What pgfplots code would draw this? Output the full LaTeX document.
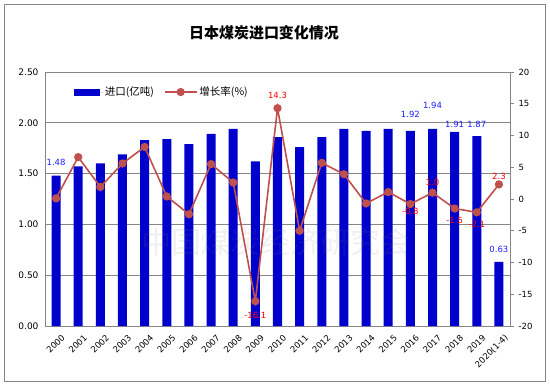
\documentclass[border=0pt]{standalone}
\usepackage{pgfplots}
\usepackage{pgfplotstable}
\pgfplotsset{compat=1.18}
\usepackage{fontspec}
\setmainfont{DejaVu Sans}
\newfontfamily\cjk{Noto Sans CJK SC}
\definecolor{barblue}{RGB}{0,0,204}
\definecolor{linered}{RGB}{192,80,77}
\definecolor{gridgray}{RGB}{134,134,134}
\definecolor{lblblue}{RGB}{30,30,255}

\pgfplotstableread{
x imp
0 1.48
1 1.57
2 1.60
3 1.69
4 1.83
5 1.84
6 1.79
7 1.89
8 1.94
9 1.62
10 1.86
11 1.76
12 1.86
13 1.94
14 1.92
15 1.94
16 1.92
17 1.94
18 1.91
19 1.87
20 0.63
}\imports

\pgfplotstableread{
x rate
0 0.1
1 6.6
2 1.9
3 5.6
4 8.2
5 0.4
6 -2.4
7 5.5
8 2.6
9 -16.1
10 14.3
11 -5.0
12 5.7
13 3.9
14 -0.7
15 1.1
16 -0.8
17 1.0
18 -1.5
19 -2.1
20 2.3
}\rates

\pgfplotstableread{
x y lab
0 1.614 1.48
16 2.087 1.92
17 2.175 1.94
18 1.988 1.91
19 1.988 1.87
20 0.758 0.63
}\implabels

\pgfplotstableread{
x y lab
9 -18.4 -16.1
10 16.3 14.3
16 -2.0 -0.8
17 2.6 1.0
18 -3.4 -1.5
19 -4.0 -2.1
20 3.5 2.3
}\ratelabels

\begin{document}
\begin{tikzpicture}[x=1pt,y=1pt]
\useasboundingbox (0,0) rectangle (550,389);
\draw[gridgray, line width=1pt] (4.5,7.5) rectangle (545.5,384.5);
\node[font=\cjk\bfseries\fontsize{15}{18}\selectfont] at (264,356) {日本煤炭进口变化情况};

\begin{axis}[
  at={(45pt,63pt)}, anchor=south west,
  scale only axis, width=465pt, height=254pt,
  xmin=-0.5, xmax=20.5, ymin=0, ymax=2.5,
  axis x line*=bottom, axis y line*=left,
  axis line style={gridgray, line width=0.8pt},
  xtick={0,...,20},
  xticklabels={2000,2001,2002,2003,2004,2005,2006,2007,2008,2009,2010,2011,2012,2013,2014,2015,2016,2017,2018,2019,2020(1-4)},
  xticklabel style={rotate=45, anchor=north east, font=\fontsize{8.5}{10}\selectfont, inner sep=1pt, yshift=-8pt, xshift=-1pt},
  ytick={0,0.5,1,1.5,2,2.5},
  yticklabels={0.00,0.50,1.00,1.50,2.00,2.50},
  yticklabel style={font=\fontsize{9}{10}\selectfont, xshift=-3pt},
  xtick style={draw=none}, ytick style={draw=none},
  ymajorgrids, major grid style={gridgray, line width=0.8pt},
  legend style={at={(0.055,0.921)}, anchor=west, draw=none, fill=none,
    font=\cjk\fontsize{10.5}{12}\selectfont, legend columns=2,
    /tikz/every even column/.append style={column sep=8pt}},
]
\addplot[ybar, bar width=9pt, fill=barblue, draw=none,
  legend image code/.code={\fill[barblue] (0pt,-3.5pt) rectangle (26pt,3.5pt); \path (0pt,0pt) -- (29pt,0pt);}]
  table[x=x,y=imp]{\imports};
\addlegendentry{进口(亿吨)}
\addlegendimage{linered, line width=1.6pt, mark=*, mark size=3pt,
  legend image code/.code={\draw[linered, line width=1.6pt] (0pt,0pt) -- (32pt,0pt); \fill[linered] (16pt,0pt) circle (3.3pt);}}
\addlegendentry{增长率(\%)}
\addplot[only marks, mark=none, nodes near coords={\pgfplotspointmeta},
  point meta=explicit symbolic,
  nodes near coords style={anchor=center, text=lblblue, font=\fontsize{8.5}{10}\selectfont}]
  table[x=x,y=y,meta=lab]{\implabels};
\end{axis}

\node[text=gray, text opacity=0.12, font=\cjk\fontsize{30}{30}\selectfont] at (276,147) {中国煤炭经济研究会};

\begin{axis}[
  at={(45pt,63pt)}, anchor=south west,
  scale only axis, width=465pt, height=254pt,
  xmin=-0.5, xmax=20.5, ymin=-20, ymax=20,
  axis x line=none, axis y line*=right,
  y axis line style={gridgray, line width=0.8pt},
  ytick={-20,-15,-10,-5,0,5,10,15,20},
  yticklabels={-20,-15,-10,-5,0,5,10,15,20},
  tick align=outside, major tick length=4pt,
  ytick style={gridgray, line width=0.8pt},
  yticklabel style={font=\fontsize{8.5}{10}\selectfont, anchor=west, xshift=1pt},
]
\addplot[linered, line width=1.6pt, mark=*, mark size=3.3pt,
  mark options={fill=linered, draw=linered}]
  table[x=x,y=rate]{\rates};
\addplot[only marks, mark=none, nodes near coords={\pgfplotspointmeta},
  point meta=explicit symbolic,
  nodes near coords style={anchor=center, text=red, font=\fontsize{8.5}{10}\selectfont}]
  table[x=x,y=y,meta=lab]{\ratelabels};
\end{axis}
\end{tikzpicture}
\end{document}
